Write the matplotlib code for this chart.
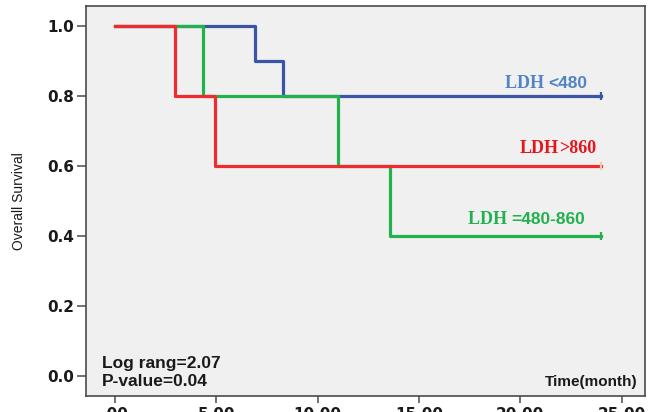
import matplotlib
matplotlib.use("Agg")
import matplotlib.pyplot as plt
import numpy as np

# Kaplan-Meier step data (time in months, survival proportion)
blue_times = [0.0, 6.9, 8.3, 24.0]
blue_surv = [1.0, 0.9, 0.8, 0.8]

green_times = [0.0, 4.35, 11.0, 13.55, 24.0]
green_surv = [1.0, 0.8, 0.6, 0.4, 0.4]

red_times = [0.0, 2.95, 4.95, 24.0]
red_surv = [1.0, 0.8, 0.6, 0.6]

x_ticks = [0, 5, 10, 15, 20, 25]
x_tick_labels = [".00", "5.00", "10.00", "15.00", "20.00", "25.00"]
y_ticks = [0.0, 0.2, 0.4, 0.6, 0.8, 1.0]
y_tick_labels = ["0.0", "0.2", "0.4", "0.6", "0.8", "1.0"]

BLUE_LINE = "#3a55a6"
BLUE_TEXT = "#5283c4"
GREEN = "#23b14d"
RED = "#ef2b2f"
RED_TEXT = "#e8141c"
FRAME = "#4a4a4a"
INK = "#1a1a1a"

fig = plt.figure(figsize=(6.5, 4.12), dpi=100)
fig.patch.set_facecolor("white")
ax = fig.add_axes([0.1323, 0.040, 0.8600, 0.9454])
ax.set_facecolor("#f0f0f0")

lw = 2.3
ax.step(blue_times, blue_surv, where="post", color=BLUE_LINE, lw=lw, zorder=2)
ax.step(green_times, green_surv, where="post", color=GREEN, lw=lw, zorder=3)
ax.step(red_times, red_surv, where="post", color=RED, lw=lw, zorder=4)

# censoring marks at the end of follow-up
ax.plot(blue_times[-1], blue_surv[-1], marker="|", ms=6, mew=1.6, color=BLUE_LINE, zorder=5)
ax.plot(green_times[-1], green_surv[-1], marker="|", ms=6, mew=1.6, color=GREEN, zorder=5)
ax.plot(red_times[-1], red_surv[-1], marker="|", ms=6, mew=1.6, color="#e9cfa8", zorder=5)

ax.set_xlim(-1.43, 26.15)
ax.set_ylim(-0.0555, 1.057)

ax.set_xticks(x_ticks)
ax.set_xticklabels(x_tick_labels)
ax.set_yticks(y_ticks)
ax.set_yticklabels(y_tick_labels)

for lab in ax.get_xticklabels() + ax.get_yticklabels():
    lab.set_fontfamily("DejaVu Sans")
    lab.set_fontweight("bold")
    lab.set_fontsize(11)
    lab.set_color(INK)

ax.tick_params(axis="y", length=6.5, width=1.1, color=FRAME, pad=2)
ax.tick_params(axis="x", length=5.0, width=1.1, color=FRAME, pad=3.5)

for sp in ax.spines.values():
    sp.set_color(FRAME)
    sp.set_linewidth(1.2)

sans = ["Liberation Sans", "DejaVu Sans"]
serif = ["Liberation Serif", "DejaVu Serif"]

fig.text(0.029, 0.512, "Overall Survival", rotation=90, ha="center", va="center",
         family=sans, fontsize=10, color=INK)

ax.text(0.986, 0.0354, "Time(month)", transform=ax.transAxes, ha="right", va="center",
        family=sans, weight="bold", fontsize=11, color=INK)

ax.text(0.028, 0.0834, "Log rang=2.07", transform=ax.transAxes, ha="left", va="center",
        family=sans, weight="bold", fontsize=12.5, color=INK)
ax.text(0.028, 0.0354, "P-value=0.04", transform=ax.transAxes, ha="left", va="center",
        family=sans, weight="bold", fontsize=12.5, color=INK)

lab_size = 13
group_specs = [
    # (right x, baseline y, threshold text, colour, threshold in serif, gap)
    (23.3, 0.823, "<480", BLUE_TEXT, False, " "),
    (23.73, 0.636, ">860", RED_TEXT, True, ""),
    (23.2, 0.433, "=480-860", GREEN, False, " "),
]

tails = []
for x, y, tail, color, tail_serif, gap in group_specs:
    t = ax.text(x, y, tail, ha="right", va="baseline", color=color,
                family=serif if tail_serif else sans, weight="bold",
                fontsize=lab_size if tail_serif else lab_size - 0.5, zorder=6)
    tails.append(t)

# place the serif "LDH" prefix on the same baseline, just left of each threshold
fig.canvas.draw()
renderer = fig.canvas.get_renderer()
inv = ax.transData.inverted()
for t, (x, y, tail, color, tail_serif, gap) in zip(tails, group_specs):
    bb = t.get_window_extent(renderer)
    x_left = inv.transform((bb.x0, bb.y0))[0]
    ax.text(x_left, y, "LDH" + gap, ha="right", va="baseline", color=color,
            family=serif, weight="bold", fontsize=lab_size, zorder=6)

fig.savefig("out.png", dpi=100, facecolor=fig.get_facecolor())
